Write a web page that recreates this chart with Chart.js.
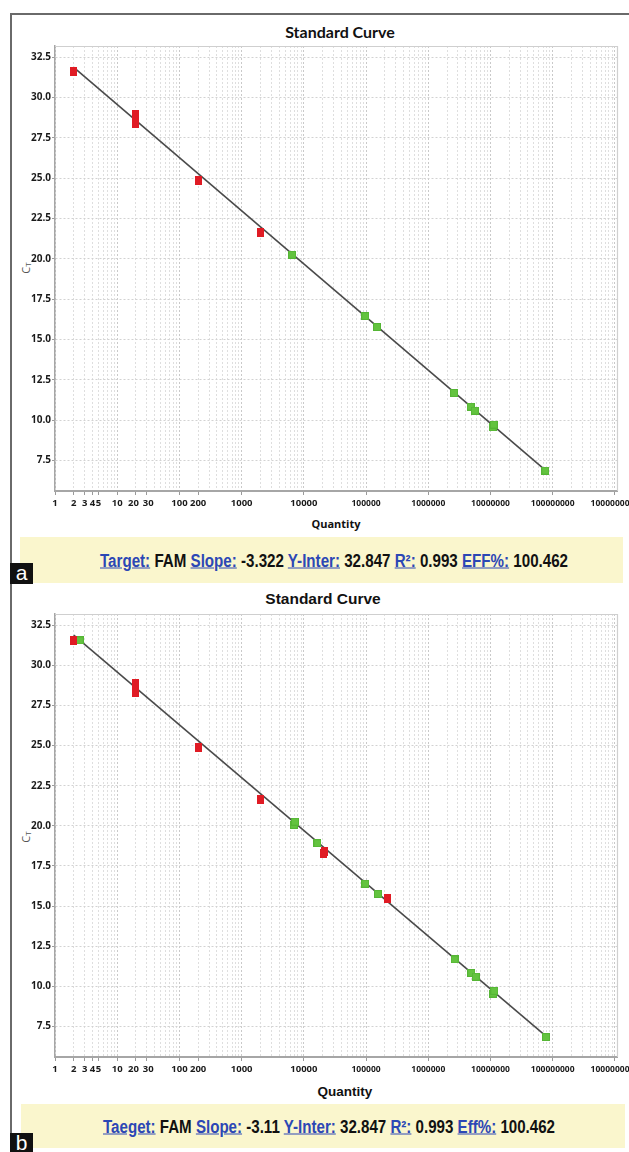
<!DOCTYPE html>
<html><head><meta charset="utf-8">
<script src="https://cdn.jsdelivr.net/npm/chart.js@4.4.1/dist/chart.umd.min.js"></script>
<style>
html,body{margin:0;padding:0;background:#fff;}
body{width:629px;height:1152px;position:relative;overflow:hidden;font-family:"Liberation Sans",Arial,sans-serif;}
.abs{position:absolute;}
.c{position:absolute;transform:translate(-50%,-50%);white-space:nowrap;}
canvas{position:absolute;left:0;}
.lab{color:#2c47b5;text-decoration:underline;}
.val{color:#111;}
.ct{position:absolute;transform:translate(-50%,-50%) rotate(-90deg);font-family:"Open Sans",sans-serif;font-size:11px;color:#555;white-space:nowrap;}
.ct sub{font-size:8px;vertical-align:-1px;}
.band{position:absolute;background:#faf6cd;}
.tag{position:absolute;background:#111;color:#fff;font-family:"Liberation Sans",Arial,sans-serif;font-size:21px;line-height:20px;text-align:center;}
</style></head><body>
<div class="abs" style="left:10px;top:13px;width:619px;height:2px;background:#6a6a6a"></div>
<div class="abs" style="left:10px;top:13px;width:2px;height:1139px;background:#6a6a6a"></div>

<div class="c" style="left:340px;top:31px;font-family:Lato,sans-serif;font-weight:bold;font-size:16px;color:#111">Standard Curve</div>
<div class="ct" style="left:25px;top:268px">C<sub>T</sub></div>
<div class="c" style="left:336px;top:523px;font-family:'Open Sans',sans-serif;font-weight:bold;font-size:11px;color:#111">Quantity</div>
<div class="band" style="left:20px;top:537px;width:603px;height:46px"></div>
<div class="c" id="statsA" style="left:334px;top:561px;font-size:18px;font-weight:bold"><span class="lab">Target:</span> <span class="val">FAM</span> <span class="lab">Slope:</span> <span class="val">-3.322</span> <span class="lab">Y-Inter:</span> <span class="val">32.847</span> <span class="lab">R²:</span> <span class="val">0.993</span> <span class="lab">EFF%:</span> <span class="val">100.462</span></div>
<div class="tag" style="left:10px;top:563px;width:23px;height:21px">a</div>

<div class="c" style="left:323px;top:599px;font-family:'Liberation Sans',Arial,sans-serif;font-weight:bold;font-size:15.5px;color:#111">Standard Curve</div>
<div class="ct" style="left:25px;top:837px">C<sub>T</sub></div>
<div class="c" style="left:345px;top:1091px;font-family:'Liberation Sans',Arial,sans-serif;font-weight:bold;font-size:13.5px;color:#111">Quantity</div>
<div class="band" style="left:21px;top:1104px;width:604px;height:44px"></div>
<div class="c" id="statsB" style="left:329px;top:1127px;font-size:18px;font-weight:bold"><span class="lab">Taeget:</span> <span class="val">FAM</span> <span class="lab">Slope:</span> <span class="val">-3.11</span> <span class="lab">Y-Inter:</span> <span class="val">32.847</span> <span class="lab">R²:</span> <span class="val">0.993</span> <span class="lab">Eff%:</span> <span class="val">100.462</span></div>
<div class="tag" style="left:10px;top:1133px;width:23px;height:19px;line-height:19px">b</div>

<canvas id="chartA" width="629" height="535" style="top:0px"></canvas>
<canvas id="chartB" width="629" height="531" style="top:570px"></canvas>

<script>
// ---- tick labels ----
const xTickValues = [1,2,3,4,5,10,20,30,100,200,1000,10000,100000,1000000,10000000,100000000,1000000000];
const xTickLabels = ['1','2','3','4','5','10','20','30','100','200','1000','10000','100000','1000000','10000000','100000000','1000000000'];
const yTickValues = [7.5,10,12.5,15,17.5,20,22.5,25,27.5,30,32.5];

// ---- panel a data ----
const redA_x = [2, 20, 20, 20, 200, 2000];
const redA_y = [31.6, 28.38, 28.66, 28.94, 24.85, 21.62];
const greenA_x = [6500, 97000, 150000, 2600000, 4800000, 5600000, 10800000, 11300000, 76000000];
const greenA_y = [20.25, 16.45, 15.77, 11.68, 10.83, 10.58, 9.55, 9.72, 6.86];
const fitA_x = [2, 76000000];
const fitA_y = [31.88, 6.9];

// ---- panel b data ----
const redB_x = [2, 20, 20, 20, 200, 2000, 21000, 21500, 220000];
const redB_y = [31.55, 28.34, 28.6, 28.86, 24.86, 21.64, 18.28, 18.43, 15.49];
const greenB_x = [2.5, 6900, 7200, 16500, 97000, 155000, 2650000, 4900000, 5800000, 11000000, 11500000, 78000000];
const greenB_y = [31.55, 20.06, 20.26, 18.92, 16.4, 15.76, 11.68, 10.83, 10.6, 9.55, 9.72, 6.84];
const fitB_x = [2, 78000000];
const fitB_y = [31.88, 6.9];

const X_MIN = 1, X_MAX = 1.08e9, Y_MIN = 5.6, Y_MAX = 33.2;

function box(w,h,fill,stroke){
  const c=document.createElement('canvas'); c.width=w; c.height=h;
  const g=c.getContext('2d'); g.fillStyle=fill; g.fillRect(0,0,w,h);
  if(stroke){ g.strokeStyle=stroke; g.lineWidth=1; g.strokeRect(0.5,0.5,w-1,h-1); }
  return c;
}
const redMark = box(7,9,'#e01b24',null);
const greenMark = box(8,8,'#63c33f','#55b535');

// grid positions: every 1..9 x 10^k
const gridVals = [];
for (let e=0;e<=8;e++){ for(let k=1;k<=9;k++){ gridVals.push(Math.round(k*Math.pow(10,e))); } }
gridVals.push(1000000000);

function pts(xs, ys){ return xs.map((x,i)=>({x:x, y:ys[i]})); }

const framePlugin = {
  id:'frame',
  beforeDatasetsDraw(chart){
    const a=chart.chartArea, g=chart.ctx;
    g.save(); g.strokeStyle='#cfcfcf'; g.lineWidth=1.2;
    g.beginPath(); g.moveTo(a.left, a.top+0.5); g.lineTo(a.right+0.5, a.top+0.5); g.lineTo(a.right+0.5, a.bottom); g.stroke();
    g.restore();
  }
};

function labelFor(v){
  const i = xTickValues.indexOf(Math.round(v));
  if (i<0) return '';
  const s = xTickLabels[i];
  if (s==='20') return s+'  ';
  if (s==='30') return ' '+s;
  return s;
}

function makeChart(id, rx, ry, gx, gy, fx, fy, padTop, xHeight){
  new Chart(document.getElementById(id), {
    type:'scatter',
    data:{datasets:[
      {data:pts(rx,ry), pointStyle:redMark, pointRadius:5, pointHoverRadius:5},
      {data:pts(gx,gy), pointStyle:greenMark, pointRadius:5, pointHoverRadius:5},
      {type:'line', data:pts(fx,fy), borderColor:'#4a4a4a', borderWidth:1.6, pointRadius:0, fill:false, tension:0}
    ]},
    options:{
      responsive:false, animation:false, devicePixelRatio:1,
      layout:{padding:{top:padTop, right:12, left:0, bottom:0}},
      plugins:{legend:{display:false}, tooltip:{enabled:false}},
      scales:{
        x:{
          type:'logarithmic', min:X_MIN, max:X_MAX,
          afterBuildTicks(s){ s.ticks = gridVals.map(v=>({value:v})); },
          afterFit(s){ s.height = xHeight; s.paddingLeft=0; s.paddingRight=0; },
          ticks:{
            autoSkip:false, maxRotation:0, minRotation:0, padding:3, color:'#1a1a1a',
            font:(c)=>({family:'"Open Sans", sans-serif', weight:'bold', size:(c.tick && c.tick.value>=100000)?8.5:9.5}),
            callback:(v)=>labelFor(v)
          },
          grid:{
            color:(c)=>{ const v=c.tick?Math.round(c.tick.value):0; return xTickValues.indexOf(v)>=0 && String(v)[0]==='1' ? '#c9c9c9' : '#dedede'; },
            lineWidth:1,
            tickLength:4,
            tickColor:(c)=>{ const v=c.tick?Math.round(c.tick.value):0; return xTickValues.indexOf(v)>=0 ? '#9a9a9a' : 'rgba(0,0,0,0)'; }
          },
          border:{color:'#a6a6a6', width:2, dash:[2,2]}
        },
        y:{
          type:'linear', min:Y_MIN, max:Y_MAX,
          afterBuildTicks(s){ s.ticks = yTickValues.map(v=>({value:v})); },
          afterFit(s){ s.width = 55; s.paddingTop=0; s.paddingBottom=0; },
          ticks:{ padding:1, color:'#1a1a1a', font:{family:'"Open Sans", sans-serif', weight:'bold', size:10}, callback:(v)=>Number(v).toFixed(1) },
          grid:{ color:'#d2d2d2', lineWidth:1, tickLength:3, tickColor:'#9a9a9a' },
          border:{color:'#a6a6a6', width:1.5, dash:[2,2]}
        }
      }
    },
    plugins:[framePlugin]
  });
}

makeChart('chartA', redA_x, redA_y, greenA_x, greenA_y, fitA_x, fitA_y, 46, 44);
makeChart('chartB', redB_x, redB_y, greenB_x, greenB_y, fitB_x, fitB_y, 44, 44);

function fitWidth(id, w){
  const el=document.getElementById(id);
  const r=el.getBoundingClientRect().width;
  el.style.transform='translate(-50%,-50%) scaleX('+(w/r)+')';
}
fitWidth('statsA', 468);
fitWidth('statsB', 452);
</script>
</body></html>
